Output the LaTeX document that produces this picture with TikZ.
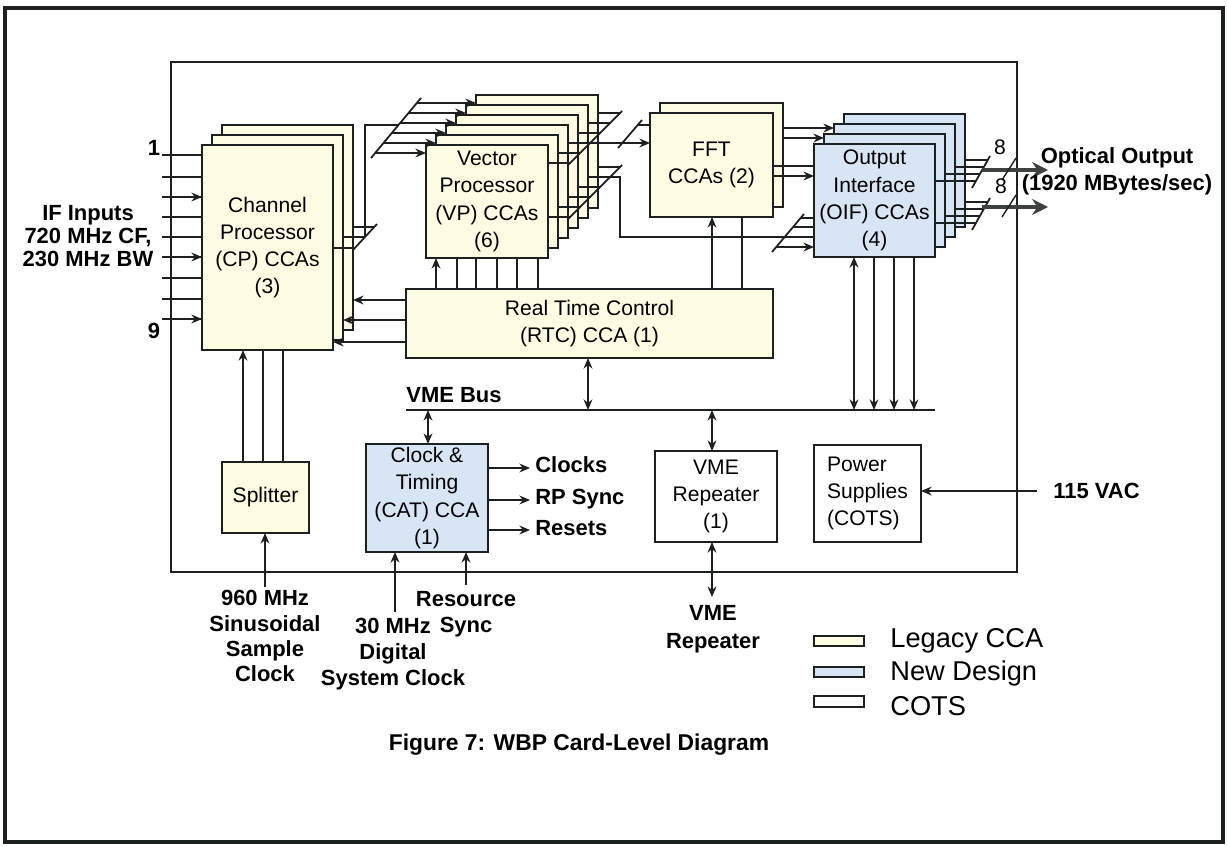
\documentclass[tikz,border=0pt]{standalone}
\usepackage{fontspec}
\setmainfont{Liberation Sans}
\usetikzlibrary{arrows.meta,calc}
\definecolor{legacy}{RGB}{254,252,226}
\definecolor{newd}{RGB}{216,229,245}
\definecolor{ink}{RGB}{28,32,32}
\tikzset{
  ln/.style={draw=ink, line width=1pt},
  arr/.style={ln, -{Stealth[length=6pt,width=5pt]}},
  rarr/.style={ln, {Stealth[length=6pt,width=5pt]}-},
  darr/.style={ln, {Stealth[length=6pt,width=5pt]}-{Stealth[length=6pt,width=5pt]}},
  board/.style={draw=ink, line width=1pt, inner sep=0pt, outer sep=0pt, align=center,
     font=\fontsize{12}{15.5}\selectfont},
  yel/.style={board, fill=legacy},
  blu/.style={board, fill=newd},
  wht/.style={board, fill=white},
  lbl/.style={font=\fontsize{12.5}{14}\selectfont\bfseries, inner sep=0pt, align=center},
  thick out/.style={draw=ink!85, line width=2.6pt, -{Stealth[length=9pt,width=9pt]}},
}
\newcommand\bd[7]{\node[#6, anchor=north west, minimum width={(#3-#1)*0.02cm},
   minimum height={(#4-#2)*0.02cm}] (#5) at (#1,#2) {#7};}
\begin{document}
\begin{tikzpicture}[x=0.02cm,y=-0.02cm]
\useasboundingbox (0,0) rectangle (1227,846);
\fill[white] (0,0) rectangle (1227,846);
\draw[line width=1.8pt, draw=ink] (5,8) rectangle (1223,842);
\draw[line width=1.1pt, draw=ink] (171,62) rectangle (1017,572);

% ---------- boards ----------
\bd{222}{125}{353}{330}{cpc}{yel}{}
\bd{212}{135}{343}{340}{cpb}{yel}{}
\bd{202}{145}{333}{350}{cpa}{yel}{Channel\\Processor\\(CP) CCAs\\(3)}

\bd{476}{95}{598}{208}{vpf}{yel}{}
\bd{466}{105}{588}{218}{vpe}{yel}{}
\bd{456}{115}{578}{228}{vpd}{yel}{}
\bd{446}{125}{568}{238}{vpc}{yel}{}
\bd{436}{135}{558}{248}{vpb}{yel}{}
\bd{426}{145}{548}{258}{vpa}{yel}{Vector\\Processor\\(VP) CCAs\\(6)}

\bd{660}{103}{783}{207}{fftb}{yel}{}
\bd{650}{113}{773}{217}{ffta}{yel}{FFT\\CCAs (2)}

\bd{844}{114}{965}{227}{oifd}{blu}{}
\bd{834}{124}{955}{237}{oifc}{blu}{}
\bd{824}{134}{945}{247}{oifb}{blu}{}
\bd{814}{144}{935}{257}{oifa}{blu}{Output\\Interface\\(OIF) CCAs\\(4)}

\bd{406}{289}{773}{358}{rtc}{yel}{Real Time Control\\(RTC) CCA (1)}
\bd{222}{462}{309}{533}{split}{yel}{Splitter}
\bd{366}{444}{488}{552}{cat}{blu}{Clock \&\\Timing\\(CAT) CCA\\(1)}
\bd{655}{451}{777}{542}{vmer}{wht}{VME\\Repeater\\(1)}
\node[wht, anchor=north west, minimum width={107*0.02cm}, minimum height={97*0.02cm}, align=left]
  (pwr) at (814,445) {Power\\Supplies\\(COTS)};

% ---------- VME bus ----------
\coordinate (busL) at (406,410);
\coordinate (busR) at (935,410);
\draw[ln] (busL) -- (busR);
\node[lbl, anchor=west] (busl) at (406,395) {VME Bus};

% ---------- IF inputs ----------
\foreach \y in {155,177,197,217,237,257,278,299,319}
  \draw[ln] (162,\y) -- (cpa.west |- 0,\y);
\foreach \y in {197,257,319}
  \draw[arr] (180,\y) -- (cpa.west |- 0,\y);
\node[lbl] (n1) at (154,148) {1};
\node[lbl] (n9) at (154,331) {9};
\node[lbl, font=\fontsize{12.5}{13}\selectfont\bfseries] (ifin) at (88,236) {IF Inputs\\720 MHz CF,\\230 MHz BW};

% ---------- CP outputs -> VP ----------
\draw[ln] (cpc.east |- 0,227) -- (374,227);
\draw[ln] (cpb.east |- 0,237) -- (365,237);
\draw[ln] (cpa.east |- 0,248) -- (355,248);
\draw[ln] (353,250) -- (377,224);
\draw[ln] (365,237) -- (365,125) -- (398,125);
% VP input bus
\draw[ln] (371,158) -- (421,98);
\draw[arr] (375,153) -- (vpa.west |- 0,153);
\draw[arr] (383,143) -- (vpb.west |- 0,143);
\draw[arr] (392,133) -- (vpc.west |- 0,133);
\draw[arr] (400,123) -- (vpd.west |- 0,123);
\draw[arr] (408,113) -- (vpe.west |- 0,113);
\draw[arr] (417,103) -- (vpf.west |- 0,103);

% ---------- VP outputs ----------
\draw[ln] (568,165) -- (622,111);
\draw[ln] (vpa.east |- 0,163) -- (570,163);
\draw[ln] (vpb.east |- 0,153) -- (580,153);
\draw[arr] (vpc.east |- 0,143) -- (ffta.west |- 0,143);
\draw[ln] (vpd.east |- 0,133) -- (600,133);
\draw[ln] (vpe.east |- 0,123) -- (610,123);
\draw[ln] (vpf.east |- 0,113) -- (620,113);
\draw[ln] (568,219) -- (622,165);
\draw[ln] (vpa.east |- 0,217) -- (570,217);
\draw[ln] (vpb.east |- 0,207) -- (580,207);
\draw[ln] (vpc.east |- 0,197) -- (590,197);
\draw[ln] (vpd.east |- 0,187) -- (600,187);
\draw[ln] (vpe.east |- 0,177) -- (620,177) -- (620,237) -- (oifa.west |- 0,237);
\draw[ln] (vpf.east |- 0,167) -- (620,167);
% FFT input bus
\draw[ln] (618,148) -- (642,120);
\draw[ln] (638,125) -- (ffta.west |- 0,125);

% ---------- FFT -> OIF ----------
\draw[arr] (fftb.east |- 0,128) -- (oifc.west |- 0,128);
\draw[arr] (fftb.east |- 0,138) -- (oifb.west |- 0,138);
\draw[ln] (ffta.east |- 0,166) -- (oifa.west |- 0,166);
\draw[arr] (ffta.east |- 0,176) -- (oifa.west |- 0,176);
% OIF input bus
\draw[ln] (772,252) -- (804,214);
\draw[ln] (801,218) -- (oifa.west |- 0,218);
\draw[ln] (793,227) -- (oifa.west |- 0,227);
\draw[arr] (776,247) -- (oifa.west |- 0,247);

% ---------- OIF outputs ----------
\draw[ln] (972,188) -- (990,156);
\draw[ln] (oifd.east |- 0,160) -- (988,160);
\draw[ln] (oifc.east |- 0,167) -- (984,167);
\draw[ln] (oifb.east |- 0,174) -- (980,174);
\draw[ln] (oifa.east |- 0,181) -- (976,181);
\draw[ln] (972,230) -- (990,198);
\draw[ln] (oifd.east |- 0,202) -- (988,202);
\draw[ln] (oifc.east |- 0,209) -- (984,209);
\draw[ln] (oifb.east |- 0,216) -- (980,216);
\draw[ln] (oifa.east |- 0,223) -- (976,223);
\coordinate (o1) at (1048,170);
\coordinate (o2) at (1048,207);
\draw[thick out] (982,170) -- (o1);
\draw[thick out] (982,207) -- (o2);
\draw[ln, line width=0.8pt] (1002,180) -- (1016,158);
\draw[ln, line width=0.8pt] (1002,217) -- (1016,195);
\node[font=\fontsize{12}{14}\selectfont, inner sep=0pt] (b1) at (1000,147) {8};
\node[font=\fontsize{12}{14}\selectfont, inner sep=0pt] (b2) at (1001,186) {8};
\node[lbl, font=\fontsize{12.5}{15.5}\selectfont\bfseries] (optl) at (1117,171) {Optical Output\\(1920 MBytes/sec)};

% ---------- RTC connections ----------
\draw[arr] (rtc.west |- 0,300) -- (cpc.east |- 0,300);
\draw[arr] (rtc.west |- 0,320) -- (cpb.east |- 0,320);
\draw[arr] (rtc.west |- 0,342) -- (cpa.east |- 0,342);
\draw[arr] (436,0 |- rtc.north) -- (436,0 |- vpa.south);
\foreach \x in {457,476,497,517,538}
  \draw[ln] (\x,0 |- rtc.north) -- (\x,0 |- vpa.south);
\draw[arr] (712,0 |- rtc.north) -- (712,0 |- ffta.south);
\draw[ln] (742,0 |- rtc.north) -- (742,0 |- ffta.south);
\draw[darr] (588,0 |- rtc.south) -- (588,0 |- busL);

% ---------- OIF -> bus ----------
\draw[darr] (854,0 |- oifa.south) -- (854,0 |- busL);
\foreach \x in {874,894,914}
  \draw[arr] (\x,0 |- oifa.south) -- (\x,0 |- busL);

% ---------- splitter ----------
\draw[arr] (243,0 |- split.north) -- (243,0 |- cpa.south);
\draw[ln] (263,0 |- split.north) -- (263,0 |- cpa.south);
\draw[ln] (283,0 |- split.north) -- (283,0 |- cpa.south);
\coordinate (sin) at (265,587);
\draw[arr] (sin) -- (sin |- split.south);
\node[lbl, font=\fontsize{12.5}{14.3}\selectfont\bfseries] (sinl) at (265,636) {960 MHz\\Sinusoidal\\Sample\\Clock};

% ---------- CAT ----------
\draw[darr] (428,0 |- busL) -- (428,0 |- cat.north);
\coordinate (c1) at (530,468);
\coordinate (c2) at (530,500);
\coordinate (c3) at (530,530);
\draw[arr] (cat.east |- c1) -- (c1);
\draw[arr] (cat.east |- c2) -- (c2);
\draw[arr] (cat.east |- c3) -- (c3);
\node[lbl, anchor=west] (clk) at (535,465) {Clocks};
\node[lbl, anchor=west] (rps) at (535,499) {RP Sync};
\node[lbl, anchor=west] (rst) at (535,528) {Resets};
\coordinate (dclk) at (395,612);
\coordinate (rsy) at (466,585);
\draw[arr] (dclk) -- (dclk |- cat.south);
\draw[arr] (rsy) -- (rsy |- cat.south);
\node[lbl, font=\fontsize{12.5}{14.8}\selectfont\bfseries] (dclkl) at (393,654) {30 MHz\\Digital\\System Clock};
\node[lbl, font=\fontsize{12.5}{15}\selectfont\bfseries] (rsyl) at (466,614) {Resource\\Sync};

% ---------- VME repeater ----------
\draw[darr] (712,0 |- busL) -- (712,0 |- vmer.north);
\coordinate (vext) at (712,597);
\draw[darr] (vext |- vmer.south) -- (vext);
\node[lbl, font=\fontsize{12.5}{15.8}\selectfont\bfseries] (vextl) at (713,629) {VME\\Repeater};

% ---------- power ----------
\coordinate (vac) at (1037,491);
\draw[arr] (vac) -- (pwr.east |- vac);
\node[lbl, anchor=west] (vacl) at (1053,491) {115 VAC};

% ---------- legend ----------
\bd{814}{636}{864}{646}{lg1}{yel}{}
\bd{814}{667}{864}{677}{lg2}{blu}{}
\bd{814}{696}{864}{707}{lg3}{wht}{}
\node[anchor=west, inner sep=0pt, font=\fontsize{15.5}{18}\selectfont] (lt1) at (890,641) {Legacy CCA};
\node[anchor=west, inner sep=0pt, font=\fontsize{15.5}{18}\selectfont] (lt2) at (890,673) {New Design};
\node[anchor=west, inner sep=0pt, font=\fontsize{15.5}{18}\selectfont] (lt3) at (890,706) {COTS};

% ---------- caption ----------
\node[lbl, font=\fontsize{13}{15}\selectfont\bfseries] (cap) at (579,745) {Figure 7: WBP Card-Level Diagram};
\end{tikzpicture}
\end{document}
